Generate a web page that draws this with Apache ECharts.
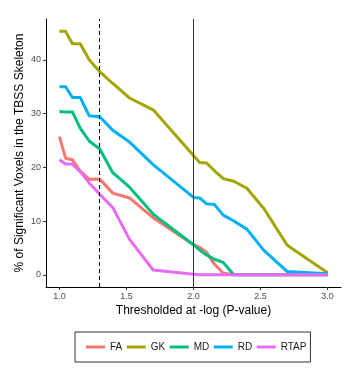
<!DOCTYPE html>
<html>
<head>
<meta charset="utf-8">
<script src="https://cdn.jsdelivr.net/npm/echarts@6/dist/echarts.min.js"></script>
<style>
  html, body { margin: 0; padding: 0; background: #fff; }
  #chart { width: 360px; height: 386px; }
</style>
</head>
<body>
<div id="chart"></div>
<script>
// thresholds: -log10(p) for p = 0.1 ... 0.001
const thresholds = [1.000, 1.046, 1.097, 1.155, 1.222, 1.301, 1.398, 1.523, 1.699, 2.000,
  2.046, 2.097, 2.155, 2.222, 2.301, 2.398, 2.523, 2.699, 3.000];

const fa   = [25.7, 21.7, 21.4, 19.3, 17.8, 17.8, 15.2, 14.3, 10.6, 5.6, 5.1, 4.2, 2.0, 0.3, 0, 0, 0, 0, 0];
const gk   = [45.3, 45.3, 43.0, 43.0, 40.0, 37.8, 35.6, 32.9, 30.7, 22.2, 20.9, 20.8, 19.4, 17.9, 17.4, 16.1, 12.4, 5.5, 0.4];
const md   = [30.4, 30.3, 30.3, 27.3, 24.9, 23.4, 19.0, 16.3, 11.3, 5.6, 4.6, 3.7, 2.9, 2.3, 0, 0, 0, 0, 0];
const rd   = [35.0, 35.0, 33.0, 33.0, 29.6, 29.4, 26.9, 24.7, 20.5, 14.4, 14.3, 13.2, 13.1, 11.1, 10.0, 8.5, 4.6, 0.6, 0.2];
const rtap = [21.4, 20.6, 20.6, 19.2, 17.1, 15.0, 12.5, 6.6, 0.9, 0.1, 0, 0, 0, 0, 0, 0, 0, 0, 0];

const seriesNames = ["FA", "GK", "MD", "RD", "RTAP"];
const seriesValues = [fa, gk, md, rd, rtap];
const colors = ["#F8766D", "#A3A500", "#00BF7D", "#00B0F6", "#E76BF3"];

const xTicks = [1.0, 1.5, 2.0, 2.5, 3.0];
const yTicks = [0, 10, 20, 30, 40];
const cutoffs = [1.301, 2.0]; // p = 0.05 (dashed), p = 0.01 (solid)

const font = "Liberation Sans, Arial, sans-serif";
const chart = echarts.init(document.getElementById("chart"), null, { renderer: "canvas" });

const lines = seriesNames.map((name, i) => ({
  name: name,
  type: "line",
  z: 3,
  data: thresholds.map((t, j) => [t, seriesValues[i][j]]),
  showSymbol: false,
  symbol: "none",
  color: colors[i],
  lineStyle: { width: 3, color: colors[i], cap: "butt", join: "round" },
  animation: false
}));

// reference lines at the two thresholds
lines.unshift({
  name: "cutoff",
  type: "line",
  z: 1,
  data: [],
  animation: false,
  markLine: {
    silent: true,
    symbol: "none",
    label: { show: false },
    animation: false,
    data: [
      { xAxis: cutoffs[0], lineStyle: { color: "#000", width: 1, type: [4, 3] } },
      { xAxis: cutoffs[1], lineStyle: { color: "#333", width: 1, type: "solid" } }
    ]
  }
});

const option = {
  backgroundColor: "#fff",
  animation: false,
  grid: { left: 46, right: 19, top: 19, bottom: 99, containLabel: false },
  legend: {
    data: seriesNames,
    left: 75,
    top: 332,
    orient: "horizontal",
    itemWidth: 19,
    itemHeight: 3,
    itemGap: 4.5,
    icon: "rect",
    borderColor: "#333",
    borderWidth: 1,
    borderRadius: 0,
    padding: [10, 4, 10, 11],
    textStyle: { fontFamily: font, fontSize: 10, color: "#1a1a1a" }
  },
  xAxis: {
    type: "value",
    min: 0.9,
    max: 3.1,
    name: "Thresholded at -log (P-value)",
    nameLocation: "middle",
    nameGap: 18,
    nameMoveOverlap: false,
    nameTextStyle: { fontFamily: font, fontSize: 12, color: "#000" },
    axisLine: { show: true, onZero: false, lineStyle: { color: "#000", width: 1 } },
    axisTick: { show: true, length: 3, customValues: xTicks, lineStyle: { color: "#333" } },
    axisLabel: {
      customValues: xTicks,
      margin: 5,
      fontFamily: font,
      fontSize: 9,
      color: "#4d4d4d",
      formatter: v => v.toFixed(1)
    },
    splitLine: { show: false }
  },
  yAxis: {
    type: "value",
    min: -2.27,
    max: 47.6,
    name: "% of Significant Voxels in the TBSS Skeleton",
    nameLocation: "middle",
    nameGap: 20,
    nameMoveOverlap: false,
    nameTextStyle: { fontFamily: font, fontSize: 12, color: "#000" },
    axisLine: { show: true, onZero: false, lineStyle: { color: "#000", width: 1 } },
    axisTick: { show: true, length: 3, customValues: yTicks, lineStyle: { color: "#333" } },
    axisLabel: {
      customValues: yTicks,
      margin: 5,
      fontFamily: font,
      fontSize: 9,
      color: "#4d4d4d"
    },
    splitLine: { show: false }
  },
  series: lines
};

chart.setOption(option);
</script>
</body>
</html>
